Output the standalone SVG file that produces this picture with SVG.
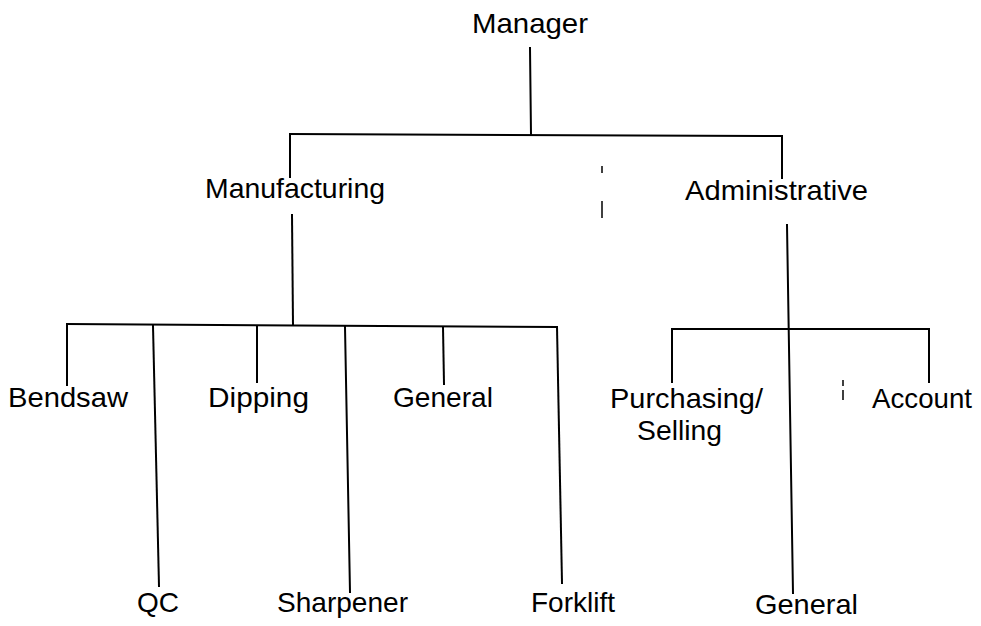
<svg xmlns="http://www.w3.org/2000/svg" width="981" height="626" viewBox="0 0 981 626">
<style>
.t{font-family:"Liberation Sans",Arial,sans-serif;font-size:28px;fill:#000}
.c{stroke:#000;stroke-width:2;fill:none;stroke-linecap:square}
.m{stroke:#000;stroke-width:1.5;fill:none}
</style>
<rect width="981" height="626" fill="#fff"/>
<g id="connectors">
<path class="c" d="M530,48 L531,134"/>
<path class="c" d="M290,134 L782,136"/>
<path class="c" d="M290,134 L290,177"/>
<path class="c" d="M782,136 L782,178"/>
<path class="c" d="M292,215 L293,324"/>
<path class="c" d="M67,324 L557,327"/>
<path class="c" d="M67,324 L67,385"/>
<path class="c" d="M153,326 L159,586"/>
<path class="c" d="M257,326 L257,382"/>
<path class="c" d="M345,327 L350,592"/>
<path class="c" d="M443,327 L444,384"/>
<path class="c" d="M557,327 L562,583"/>
<path class="c" d="M787,225 L793,593"/>
<path class="c" d="M672,329 L929,329"/>
<path class="c" d="M672,329 L672,382"/>
<path class="c" d="M929,329 L929,382"/>
</g>
<g id="marks">
<path class="m" d="M602,166 L602,173"/>
<path class="m" d="M602,201 L602,218"/>
<path class="m" d="M843,380 L843,386 M843,390 L843,400"/>
</g>
<g id="manager"><text class="t" x="472" y="33" textLength="116" lengthAdjust="spacingAndGlyphs">Manager</text></g>
<g id="manufacturing"><text class="t" x="205" y="198" textLength="180" lengthAdjust="spacingAndGlyphs">Manufacturing</text></g>
<g id="administrative"><text class="t" x="685" y="200" textLength="183" lengthAdjust="spacingAndGlyphs">Administrative</text></g>
<g id="bendsaw"><text class="t" x="8" y="407" textLength="120" lengthAdjust="spacingAndGlyphs">Bendsaw</text></g>
<g id="dipping"><text class="t" x="208" y="407" textLength="101" lengthAdjust="spacingAndGlyphs">Dipping</text></g>
<g id="general-mfg"><text class="t" x="393" y="407" textLength="100" lengthAdjust="spacingAndGlyphs">General</text></g>
<g id="qc"><text class="t" x="137" y="612" textLength="42" lengthAdjust="spacingAndGlyphs">QC</text></g>
<g id="sharpener"><text class="t" x="277" y="612" textLength="131" lengthAdjust="spacingAndGlyphs">Sharpener</text></g>
<g id="forklift"><text class="t" x="531" y="612" textLength="84" lengthAdjust="spacingAndGlyphs">Forklift</text></g>
<g id="purchasing"><text class="t" x="610" y="408" textLength="153" lengthAdjust="spacingAndGlyphs">Purchasing/</text><text class="t" x="637" y="440" textLength="85" lengthAdjust="spacingAndGlyphs">Selling</text></g>
<g id="account"><text class="t" x="872" y="408" textLength="100" lengthAdjust="spacingAndGlyphs">Account</text></g>
<g id="general-admin"><text class="t" x="755" y="614" textLength="103" lengthAdjust="spacingAndGlyphs">General</text></g>
</svg>
